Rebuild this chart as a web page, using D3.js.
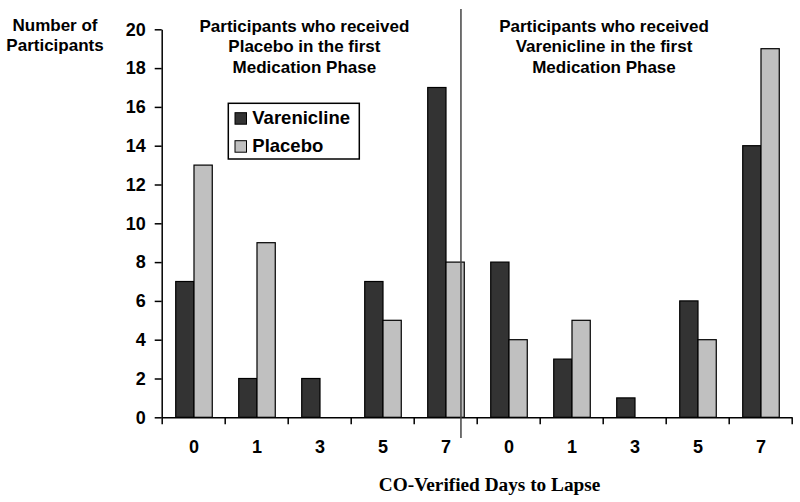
<!DOCTYPE html>
<html>
<head>
<meta charset="utf-8">
<script src="https://cdn.jsdelivr.net/npm/d3@7"></script>
<style>
  body { margin: 0; background: #fff; }
  svg { display: block; }
  text { font-family: Arial, "Liberation Sans", sans-serif; font-weight: bold; fill: #000; }
</style>
</head>
<body>
<svg id="chart" width="800" height="502"></svg>
<script>
// ---- data ----
const dayLabels = ["0", "1", "3", "5", "7", "0", "1", "3", "5", "7"];
const seriesNames = ["Varenicline", "Placebo"];
const vareniclineValues = [7, 2, 2, 7, 17, 8, 3, 1, 6, 14];
const placeboValues = [13, 9, 0, 5, 8, 4, 5, 0, 4, 19];
const yTicks = [0, 2, 4, 6, 8, 10, 12, 14, 16, 18, 20];
const panelTitles = [
  ["Participants who received", "Placebo in the first", "Medication Phase"],
  ["Participants who received", "Varenicline in the first", "Medication Phase"]
];
const yTitle = ["Number of", "Participants"];
const xTitle = "CO-Verified Days to Lapse";
const colors = { "Varenicline": "#333333", "Placebo": "#c0c0c0" };

// ---- layout ----
const svg = d3.select("#chart");
const x0 = 161.7, x1 = 791.7, yBottom = 417.3, yTop = 29.3;
const groups = d3.range(dayLabels.length);
const rows = groups.map(i => ({ i, values: [vareniclineValues[i], placeboValues[i]] }));

const xLin = d3.scaleLinear().domain([0, groups.length]).range([x0, x1]);
const xBand = d3.scaleBand().domain(groups).range([x0, x1]).paddingInner(0.42).paddingOuter(0.21).align(0.53);
const xSub = d3.scaleBand().domain(seriesNames).range([0, xBand.bandwidth()]);
const y = d3.scaleLinear().domain([0, 20]).range([yBottom, yTop]);

// bars
const g = svg.append("g");
g.selectAll("g.grp").data(rows).join("g")
  .attr("transform", d => `translate(${xBand(d.i)},0)`)
  .selectAll("rect")
  .data(d => d.values.map((v, k) => ({ name: seriesNames[k], v })))
  .join("rect")
  .attr("x", d => xSub(d.name))
  .attr("y", d => y(d.v))
  .attr("width", xSub.bandwidth())
  .attr("height", d => y(0) - y(d.v))
  .attr("fill", d => colors[d.name])
  .attr("stroke", "#000")
  .attr("stroke-width", 1.2)
  .style("display", d => d.v > 0 ? null : "none");

// y axis
const yAxis = svg.append("g").attr("transform", `translate(${x0},0)`)
  .call(d3.axisLeft(y).tickValues(yTicks).tickSize(7).tickSizeOuter(0).tickPadding(9));
yAxis.selectAll("path,line").attr("stroke", "#000").attr("stroke-width", 1.5);
yAxis.selectAll("text").style("font-size", "18px").style("font-family", "Arial, 'Liberation Sans', sans-serif").style("font-weight", "bold").attr("fill", "#000");

// x axis (ticks at group boundaries)
const xAxis = svg.append("g").attr("transform", `translate(0,${yBottom})`)
  .call(d3.axisBottom(xLin).tickValues(d3.range(groups.length + 1)).tickSize(7).tickSizeOuter(0).tickFormat(""));
xAxis.selectAll("path,line").attr("stroke", "#000").attr("stroke-width", 1.5);

// x category labels
svg.append("g").selectAll("text").data(groups).join("text")
  .attr("x", i => xBand(i) + xBand.bandwidth() / 2)
  .attr("y", 452.7)
  .attr("text-anchor", "middle")
  .style("font-size", "18px")
  .text(i => dayLabels[i]);

// divider
svg.append("line")
  .attr("x1", xLin(4.75)).attr("x2", xLin(4.75))
  .attr("y1", 9).attr("y2", 438)
  .attr("stroke", "#444").attr("stroke-width", 1.5);

// panel titles
const titleCenters = [304.4, 604];
panelTitles.forEach((lines, p) => {
  svg.append("text")
    .attr("text-anchor", "middle")
    .style("font-size", "17px")
    .selectAll("tspan").data(lines).join("tspan")
    .attr("x", titleCenters[p])
    .attr("y", (d, k) => 32 + k * 20.3)
    .text(d => d);
});

// y title
svg.append("text")
  .attr("text-anchor", "middle")
  .style("font-size", "17px")
  .selectAll("tspan").data(yTitle).join("tspan")
  .attr("x", 55)
  .attr("y", (d, k) => 31 + k * 19.5)
  .text(d => d);

// x title
svg.append("text")
  .attr("x", 489.6).attr("y", 491)
  .attr("text-anchor", "middle")
  .style("font-family", "'Liberation Serif', 'Times New Roman', serif")
  .style("font-size", "19.3px")
  .text(xTitle);

// legend
const lg = svg.append("g");
lg.append("rect").attr("x", 228.3).attr("y", 103.3).attr("width", 131).attr("height", 55.7)
  .attr("fill", "#fff").attr("stroke", "#000").attr("stroke-width", 1.5);
const li = lg.selectAll("g.item").data(seriesNames).join("g")
  .attr("transform", (d, k) => `translate(235,${112.7 + k * 28})`);
li.append("rect").attr("width", 11.5).attr("height", 11.5)
  .attr("fill", d => colors[d]).attr("stroke", "#000").attr("stroke-width", 1);
li.append("text").attr("x", 17.3).attr("y", 11.5)
  .style("font-size", "18.5px")
  .text(d => d);
</script>
</body>
</html>
